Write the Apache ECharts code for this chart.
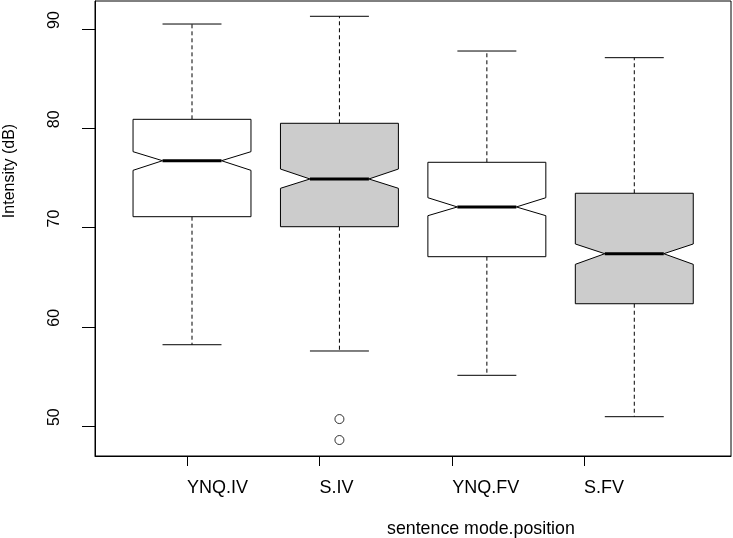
<!DOCTYPE html>
<html>
<head>
<meta charset="utf-8">
<script src="https://cdn.jsdelivr.net/npm/echarts@6/dist/echarts.min.js"></script>
<style>
html,body{margin:0;padding:0;background:#fff;}
#c{width:733px;height:538px;}
</style>
</head>
<body>
<div id="c"></div>
<script>
const categories = ['YNQ.IV', 'S.IV', 'YNQ.FV', 'S.FV'];
const whiskerLow = [58.19, 57.56, 55.11, 50.94];
const q1 = [71.09, 70.08, 67.06, 62.32];
const notchLow = [75.76, 73.95, 71.19, 66.29];
const median = [76.73, 74.89, 72.07, 67.36];
const notchHigh = [77.64, 75.89, 73.00, 68.34];
const q3 = [80.90, 80.50, 76.57, 73.45];
const whiskerHigh = [90.50, 91.28, 87.78, 87.11];
const outlierGroup = [1, 1];
const outlierValue = [50.70, 48.59];
const xTickPos = [0.966, 1.864, 2.766, 3.659];
const yTicks = [50, 60, 70, 80, 90];
const fills = ['#ffffff', '#cccccc', '#ffffff', '#cccccc'];

const FONT = 'Liberation Sans, Arial, Helvetica, sans-serif';

const boxData = categories.map((c, i) => [i + 1, whiskerLow[i], q1[i], notchLow[i], median[i], notchHigh[i], q3[i], whiskerHigh[i]]);
const outlierData = outlierGroup.map((g, i) => [g + 1, outlierValue[i]]);

function renderItem(params, api) {
  const x = api.value(0);
  const lo = api.value(1), b1 = api.value(2), nl = api.value(3), md = api.value(4),
        nh = api.value(5), b3 = api.value(6), hi = api.value(7);
  const hw = 0.4;
  const P = (xx, yy) => api.coord([xx, yy]);
  const idx = params.dataIndex;
  const line = (a, b, extra) => ({
    type: 'line',
    shape: { x1: a[0], y1: a[1], x2: b[0], y2: b[1] },
    style: Object.assign({ stroke: '#000', lineWidth: 1 }, extra || {})
  });
  const poly = [
    P(x - hw, b3), P(x + hw, b3), P(x + hw, nh), P(x + hw / 2, md), P(x + hw, nl),
    P(x + hw, b1), P(x - hw, b1), P(x - hw, nl), P(x - hw / 2, md), P(x - hw, nh)
  ];
  return {
    type: 'group',
    children: [
      line(P(x, b3), P(x, hi), { lineDash: [4, 3] }),
      line(P(x, b1), P(x, lo), { lineDash: [4, 3] }),
      line(P(x - hw / 2, hi), P(x + hw / 2, hi)),
      line(P(x - hw / 2, lo), P(x + hw / 2, lo)),
      { type: 'polygon', shape: { points: poly }, style: { fill: fills[idx], stroke: '#000', lineWidth: 1 } },
      line(P(x - hw / 2, md), P(x + hw / 2, md), { lineWidth: 3 })
    ]
  };
}

const chart = echarts.init(document.getElementById('c'), null, { renderer: 'canvas' });
chart.setOption({
  animation: false,
  backgroundColor: '#fff',
  grid: { left: 95, right: 2, top: 1, bottom: 82, show: true, borderColor: '#000', borderWidth: 1, backgroundColor: 'transparent' },
  title: {
    text: 'sentence mode.position',
    left: 382, top: 515,
    textStyle: { fontFamily: FONT, fontSize: 17.8, fontWeight: 'normal', color: '#000' }
  },
  graphic: [{
    type: 'text', x: 10, y: 171, rotation: Math.PI / 2,
    style: { text: 'Intensity (dB)', font: '16px ' + FONT, fill: '#000', textAlign: 'center', textVerticalAlign: 'middle' }
  }],
  xAxis: {
    type: 'value', min: 0.342, max: 4.656,
    splitLine: { show: false },
    axisLine: { show: true, onZero: false, lineStyle: { color: '#000', width: 1 } },
    axisTick: { show: true, customValues: xTickPos, length: 10, lineStyle: { color: '#000' } },
    axisLabel: {
      customValues: xTickPos,
      formatter: function (v) {
        let best = 0, d = 1e9;
        xTickPos.forEach((p, i) => { if (Math.abs(p - v) < d) { d = Math.abs(p - v); best = i; } });
        return categories[best];
      },
      align: 'left', verticalAlign: 'middle', margin: 32,
      fontFamily: FONT, fontSize: 18, color: '#000'
    }
  },
  yAxis: {
    type: 'value', min: 46.98, max: 92.82,
    splitLine: { show: false },
    axisLine: { show: true, onZero: false, lineStyle: { color: '#000', width: 1 } },
    axisTick: { show: true, customValues: yTicks, length: 13, lineStyle: { color: '#000' } },
    axisLabel: {
      customValues: yTicks, rotate: 90, align: 'left', verticalAlign: 'middle', margin: 40,
      fontFamily: FONT, fontSize: 16, color: '#000'
    }
  },
  series: [
    {
      type: 'custom', renderItem: renderItem, data: boxData,
      encode: { x: 0, y: [1, 2, 3, 4, 5, 6, 7] }, z: 2
    },
    {
      type: 'scatter', data: outlierData, symbol: 'circle', symbolSize: 9,
      itemStyle: { color: '#fff', borderColor: '#000', borderWidth: 1 }, z: 3
    }
  ]
});
</script>
</body>
</html>
